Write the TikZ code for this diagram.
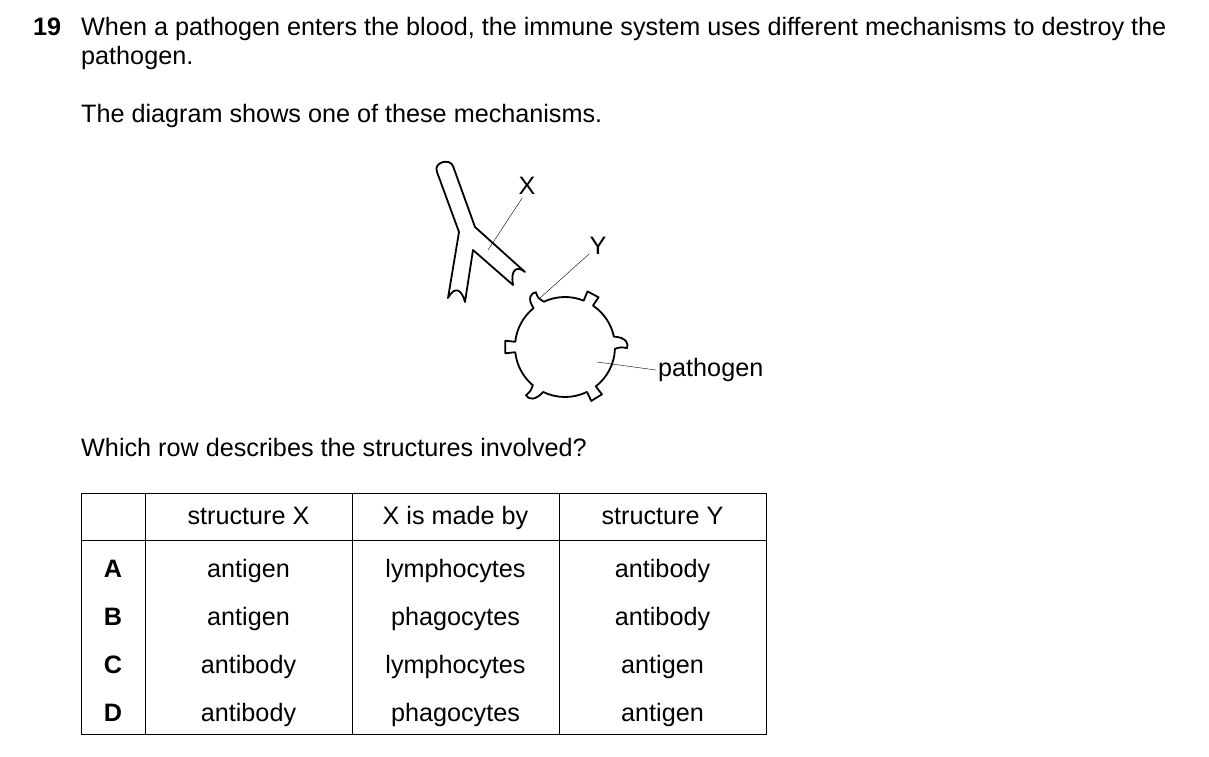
\documentclass[tikz,border=0pt]{standalone}
\usepackage{fontspec}
\setmainfont{Liberation Sans}
\usepackage{tikz}

\begin{document}
\begin{tikzpicture}[x=1pt,y=1pt,yscale=-1,xscale=1]
\tikzset{txt/.style={anchor=west,inner sep=0pt,text height=18pt,text depth=5pt,font=\fontsize{25.2}{33}\selectfont},
 cell/.style={inner sep=0pt,text height=18pt,text depth=5pt,font=\fontsize{25.2}{33}\selectfont},
 outline/.style={line width=1.8pt,line join=round}}
\useasboundingbox (0,0) rectangle (1209,756);

% question text
\node[txt,font=\fontsize{25.2}{33}\selectfont\bfseries] (num) at (33,29) {19};
\node[txt] (q1) at (81,29) {When a pathogen enters the blood, the immune system uses different mechanisms to destroy the};
\node[txt] (q2) at (81,58) {pathogen.};
\node[txt] (q3) at (81,116) {The diagram shows one of these mechanisms.};
\node[txt] (q4) at (81,450) {Which row describes the structures involved?};

% antibody
\draw[outline] (459,232) -- (437,172) .. controls (433,162) and (450,158) .. (453,166) -- (475,227)
 -- (525,272) .. controls (518,266) and (510,268) .. (513,285) -- (473,250)
 -- (465,302) .. controls (462,290) and (455,285) .. (448,298) -- cycle;

% pathogen
\begin{scope}[shift={(565,347)}]
\draw[outline] (-174:50) arc[start angle=-174,end angle=-129,radius=50]
 .. controls (-128:62) and (-122:64) .. (-118:62) .. controls (-119:56) .. (-115:50)
 arc[start angle=-115,end angle=-68,radius=50]
 -- (-68:60) -- (-56:60) -- (-56:50)
 arc[start angle=-56,end angle=-12,radius=50]
 .. controls (-9:62) and (-3:64) .. (1:62) .. controls (0:56) .. (2:50)
 arc[start angle=2,end angle=52,radius=50]
 -- (52:60) -- (64:60) -- (64:50)
 arc[start angle=64,end angle=116,radius=50]
 .. controls (119:62) and (125:64) .. (129:62) .. controls (128:56) .. (130:50)
 arc[start angle=130,end angle=174,radius=50]
 -- (174:60) -- (186:60) -- cycle;
\end{scope}

% labels
\node[cell] (X) at (527,188) {X};
\node[cell] (Y) at (598,248) {Y};
\node[cell,anchor=west] (P) at (658,370) {pathogen};
\coordinate (xend) at (488,250);
\coordinate (yend) at (540,298);
\coordinate (pend) at (597,362);
\draw (X.south west) ++(4,-2) -- (xend);
\draw (Y.south west) ++(0,-6) -- (yend);
\draw (P.west) ++(-2,0) -- (pend);

% table
\draw[line width=1pt] (81,493) rectangle (766,734);
\foreach \cx in {145,352,559} \draw[line width=1pt] (\cx,493) -- (\cx,734);
\draw[line width=1pt] (81,540) -- (766,540);

\node[cell] (h1) at (248.5,518) {structure X};
\node[cell] (h2) at (455.5,518) {X is made by};
\node[cell] (h3) at (662.5,518) {structure Y};

\foreach \lt/\sx/\mb/\sy [count=\i] in {A/antigen/lymphocytes/antibody,B/antigen/phagocytes/antibody,C/antibody/lymphocytes/antigen,D/antibody/phagocytes/antigen}{
 \node[cell,font=\fontsize{25.2}{33}\selectfont\bfseries] (r\i a) at (113,523+48*\i) {\lt};
 \node[cell] (r\i b) at (248.5,523+48*\i) {\sx};
 \node[cell] (r\i c) at (455.5,523+48*\i) {\mb};
 \node[cell] (r\i d) at (662.5,523+48*\i) {\sy};
}
\end{tikzpicture}
\end{document}
